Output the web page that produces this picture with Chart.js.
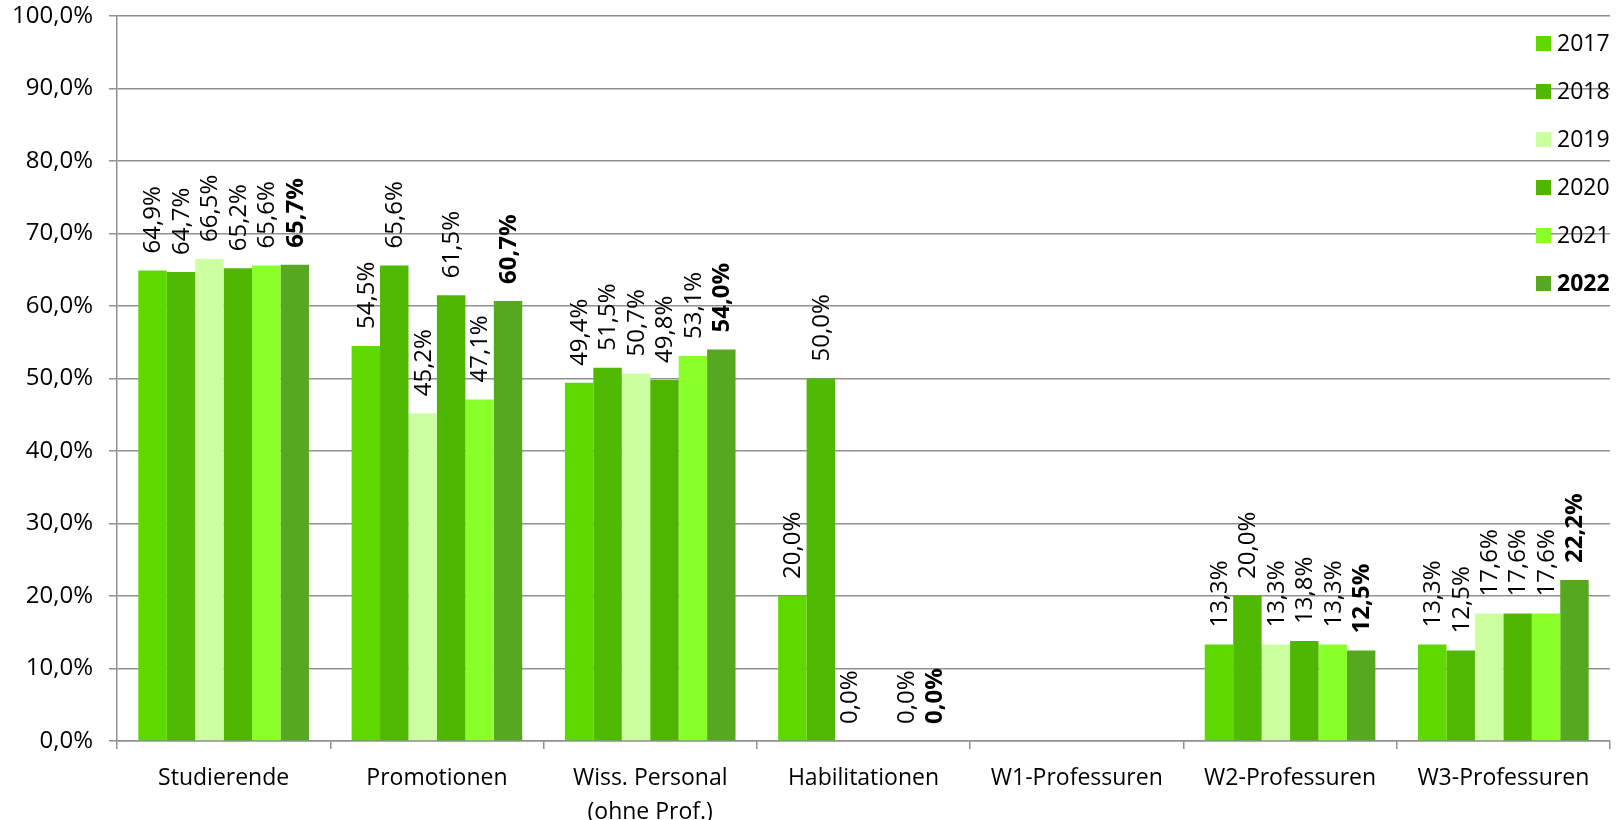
<!DOCTYPE html>
<html>
<head>
<meta charset="utf-8">
<script src="https://cdn.jsdelivr.net/npm/chart.js@4.4.1/dist/chart.umd.min.js"></script>
<style>
html,body{margin:0;padding:0;background:#fff;}
canvas{display:block;}
</style>
</head>
<body>
<canvas id="c" width="1623" height="820"></canvas>
<script>
const categories = ["Studierende", "Promotionen", ["Wiss. Personal", "(ohne Prof.)"], "Habilitationen", "W1-Professuren", "W2-Professuren", "W3-Professuren"];
const years = ["2017", "2018", "2019", "2020", "2021", "2022"];
const v2017 = [64.9, 54.5, 49.4, 20.0, null, 13.3, 13.3];
const v2018 = [64.7, 65.6, 51.5, 50.0, null, 20.0, 12.5];
const v2019 = [66.5, 45.2, 50.7, 0.0, null, 13.3, 17.6];
const v2020 = [65.2, 61.5, 49.8, null, null, 13.8, 17.6];
const v2021 = [65.6, 47.1, 53.1, 0.0, null, 13.3, 17.6];
const v2022 = [65.7, 60.7, 54.0, 0.0, null, 12.5, 22.2];
const yTicks = [0, 10, 20, 30, 40, 50, 60, 70, 80, 90, 100];

const seriesValues = [v2017, v2018, v2019, v2020, v2021, v2022];
const colors = ["#5ED900", "#4FB800", "#CCFFA0", "#4FB600", "#88FF28", "#56A820"];
const boldSeries = [false, false, false, false, false, true];
const FONT = "'Open Sans', sans-serif";
const FS_NUM = 24;
const FS_TXT = 23;
const GRID = "#8f8f8f";

function fmt(v){ return v.toFixed(1).replace('.', ',') + '%'; }

const labelPlugin = {
  id: 'barLabels',
  afterDatasetsDraw(chart){
    const ctx = chart.ctx;
    chart.data.datasets.forEach((ds, di) => {
      const meta = chart.getDatasetMeta(di);
      meta.data.forEach((el, i) => {
        const v = ds.data[i];
        if (v === null || v === undefined) return;
        ctx.save();
        ctx.translate(el.x, el.y - 17);
        ctx.rotate(-Math.PI/2);
        ctx.font = (boldSeries[di] ? 'bold ' : '') + FS_NUM + 'px ' + FONT;
        ctx.fillStyle = '#000';
        ctx.textAlign = 'left';
        ctx.textBaseline = 'middle';
        ctx.fillText(fmt(v), 0, 1);
        ctx.restore();
      });
    });
  },
  afterDraw(chart){
    const ctx = chart.ctx;
    const x0 = 1536, y0 = 43, dy = 48;
    years.forEach((y, i) => {
      const cy = y0 + i*dy;
      ctx.fillStyle = colors[i];
      ctx.fillRect(x0, cy - 7, 15, 15);
      ctx.font = (boldSeries[i] ? 'bold ' : '') + FS_TXT + 'px ' + FONT;
      ctx.fillStyle = '#000';
      ctx.textAlign = 'left';
      ctx.textBaseline = 'middle';
      ctx.fillText(y, x0 + 21, cy + 1);
    });
  }
};

new Chart(document.getElementById('c'), {
  type: 'bar',
  data: {
    labels: categories,
    datasets: years.map((y, i) => ({
      label: y,
      data: seriesValues[i],
      backgroundColor: colors[i],
      borderWidth: 0,
      categoryPercentage: 0.8,
      barPercentage: 1.0
    }))
  },
  options: {
    responsive: false,
    devicePixelRatio: 1,
    animation: false,
    layout: { padding: { top: 16, right: 13, left: 0, bottom: 0 } },
    plugins: { legend: { display: false }, tooltip: { enabled: false } },
    scales: {
      y: {
        min: 0, max: 100,
        afterBuildTicks(scale){ scale.ticks = yTicks.map(v => ({ value: v })); },
        afterFit(scale){ scale.width = 117; scale.paddingTop = 0; scale.paddingBottom = 0; },
        ticks: {
          callback: v => fmt(v),
          font: { family: FONT, size: FS_NUM },
          color: '#000',
          padding: 16
        },
        grid: { color: GRID, lineWidth: 1.5, tickLength: 8, drawTicks: true },
        border: { color: GRID, width: 1.5 }
      },
      x: {
        afterFit(scale){ scale.height = 79; scale.paddingLeft = 0; scale.paddingRight = 0; },
        ticks: {
          font: { family: FONT, size: FS_TXT, lineHeight: 1.45 },
          color: '#000',
          padding: 13,
          maxRotation: 0,
          autoSkip: false
        },
        grid: { display: true, drawOnChartArea: false, drawTicks: true, tickLength: 8, lineWidth: 1.5, color: GRID, offset: true },
        border: { color: GRID, width: 1.5 }
      }
    }
  },
  plugins: [labelPlugin]
});
</script>
</body>
</html>
